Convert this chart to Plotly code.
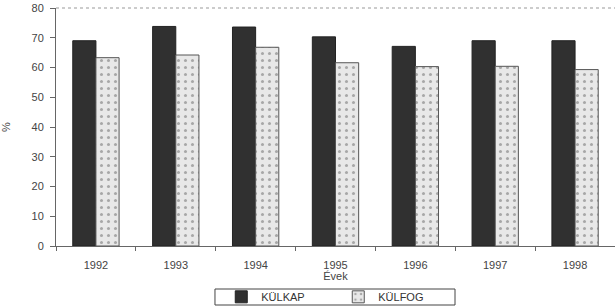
import plotly.graph_objects as go

years = ["1992", "1993", "1994", "1995", "1996", "1997", "1998"]
kulkap = [69.0, 73.8, 73.6, 70.3, 67.1, 69.0, 69.0]
kulfog = [63.3, 64.2, 66.8, 61.6, 60.3, 60.4, 59.3]
y_ticks = [0, 10, 20, 30, 40, 50, 60, 70, 80]

font_family = "Liberation Sans, Arial, sans-serif"

fig = go.Figure()
fig.add_trace(go.Bar(
    x=years, y=kulkap, name="KÜLKAP",
    marker=dict(color="#303030", line=dict(color="#222222", width=1)),
))
fig.add_trace(go.Bar(
    x=years, y=kulfog, name="KÜLFOG",
    marker=dict(color="#e8e8e8", line=dict(color="#555555", width=1),
                pattern=dict(shape=".", bgcolor="#e8e8e8", fgcolor="#666666",
                             size=7, solidity=0.15)),
))

fig.update_layout(
    width=615, height=306,
    margin=dict(l=56, r=0, t=8, b=60, autoexpand=False),
    paper_bgcolor="white", plot_bgcolor="white",
    barmode="group", bargap=0.42, bargroupgap=0,
    font=dict(family=font_family, size=11, color="#444444"),
    showlegend=True,
    legend=dict(orientation="h", x=0.55, xanchor="center",
                y=0.03, yanchor="middle", yref="container", xref="container",
                borderwidth=0, bgcolor="rgba(0,0,0,0)",
                font=dict(size=11, color="#333333"),
                entrywidth=72, itemwidth=30, tracegroupgap=0),
    xaxis=dict(
        showline=True, linecolor="#666666", linewidth=1,
        ticks="outside", ticklen=4, tickcolor="#666666", tickson="boundaries",
        showgrid=False, automargin=False, ticklabelstandoff=9,
        title=dict(text="Évek", standoff=2, font=dict(size=11, color="#444444")),
        tickfont=dict(size=11, color="#444444"),
    ),
    yaxis=dict(
        range=[0, 80], tickvals=y_ticks,
        showline=True, linecolor="#666666", linewidth=1,
        ticks="outside", ticklen=5, tickcolor="#666666",
        showgrid=False, zeroline=False, automargin=False, ticklabelstandoff=4,
        title=dict(text="%", standoff=18, font=dict(size=11, color="#444444")),
        tickfont=dict(size=11, color="#444444"),
    ),
    shapes=[
        dict(type="line", xref="paper", yref="paper", x0=0, x1=1, y0=1, y1=1,
             line=dict(color="#999999", width=1, dash="dot")),
        # legend frame
        dict(type="rect", xref="paper", yref="paper",
             x0=0.2844, x1=0.7138, y0=-0.1807, y1=-0.2479,
             line=dict(color="#444444", width=1), fillcolor="rgba(0,0,0,0)"),
    ],
)

fig.write_html("out.html", config={"displayModeBar": False},
               post_script="document.body.style.margin='0';document.body.style.overflow='hidden';")
